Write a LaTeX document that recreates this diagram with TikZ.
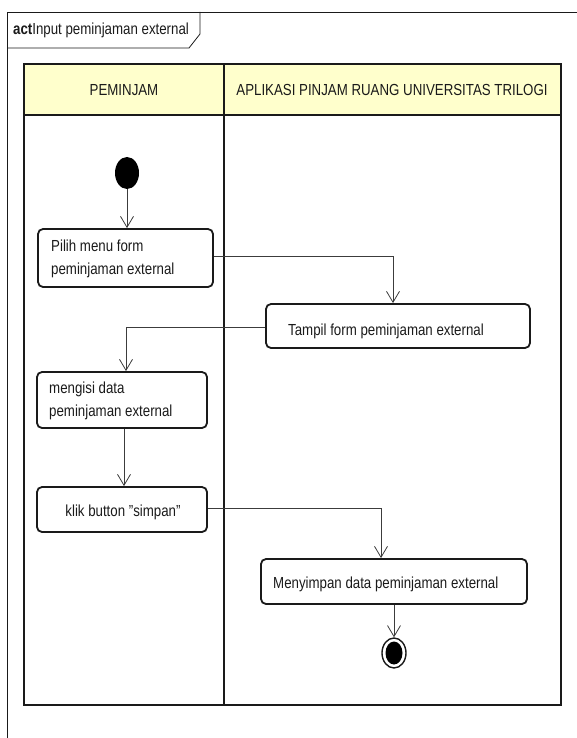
\documentclass[tikz,border=0pt]{standalone}
\usepackage{fontspec}
\setmainfont{Liberation Sans}[FakeStretch=0.83]
\usetikzlibrary{arrows.meta,shapes.geometric}
\definecolor{lanehead}{HTML}{FFFFCC}
\definecolor{ink}{HTML}{1A1A1A}
\begin{document}
\begin{tikzpicture}[x=1pt,y=-1pt,
  actbox/.style={draw=ink,line width=1.8pt,rounded corners=5pt,inner sep=0pt},
  flow/.style={draw=ink!85,line width=0.8pt,-{Straight Barb[length=11pt,width=13pt,line width=0.8pt]}},
  lbl/.style={font=\fontsize{16}{23}\selectfont,text=ink,inner sep=0pt},
  lane/.style={draw=ink,line width=2.2pt}]
\useasboundingbox (0,0) rectangle (577,738);
% outer frame
\draw[ink,line width=0.8pt] (7,738) -- (7,12) -- (577,12);
\draw[ink,line width=0.8pt] (7,48) -- (189,48) -- (200,34) -- (200,12);
\node[lbl,anchor=west] (title) at (13,30) {\textbf{act}Input peminjaman external};
% swimlanes
\fill[lanehead] (24,64) rectangle (561,115);
\draw[lane] (24,64) rectangle (561,705);
\draw[lane] (24,115) -- (561,115);
\draw[lane] (224,64) -- (224,705);
\node[lbl] (h1) at (124,90) {PEMINJAM};
\node[lbl] (h2) at (392,90) {APLIKASI PINJAM RUANG UNIVERSITAS TRILOGI};
% start
\node[ellipse,fill=black,minimum width=24pt,minimum height=32pt,inner sep=0pt] (start) at (127,173) {};
% boxes
\node[actbox,minimum width=175pt,minimum height=58pt] (b1) at (125.5,258) {};
\node[lbl,anchor=west,align=left] (t1) at (51,259) {Pilih menu form\\peminjaman external};
\node[actbox,minimum width=264pt,minimum height=44pt] (b2) at (398,326) {};
\node[lbl] (t2) at (386,331) {Tampil form peminjaman external};
\node[actbox,minimum width=170pt,minimum height=56pt] (b3) at (122,400) {};
\node[lbl,anchor=west,align=left] (t3) at (49,401) {mengisi data\\peminjaman external};
\node[actbox,minimum width=170pt,minimum height=45pt] (b4) at (122,509.5) {};
\node[lbl] (t4) at (123,512) {klik button \char"0022simpan\char"0022};
\node[actbox,minimum width=266pt,minimum height=45pt] (b5) at (394,581.5) {};
\node[lbl,anchor=west] (t5) at (273,584) {Menyimpan data peminjaman external};
% final
\node[ellipse,draw=ink,line width=1.4pt,fill=white,minimum width=24pt,minimum height=30pt,inner sep=0pt] (final) at (394,653) {};
\node[ellipse,fill=black,minimum width=17pt,minimum height=23pt,inner sep=0pt] (finalin) at (394,653) {};
% flows
\draw[flow] (start) -- (b1.north -| start);
\coordinate (c1) at (393,256);
\draw[flow] (b1.east |- c1) -- (c1) -- (c1 |- b2.north);
\coordinate (c2) at (126,327);
\draw[flow] (b2.west |- c2) -- (c2) -- (c2 |- b3.north);
\coordinate (c3) at (124,430);
\draw[flow] (b3.south -| c3) -- (c3 |- b4.north);
\coordinate (c4) at (381,508);
\draw[flow] (b4.east |- c4) -- (c4) -- (c4 |- b5.north);
\coordinate (c5) at (394,604);
\draw[flow] (b5.south -| c5) -- (final.north);
\end{tikzpicture}
\end{document}
